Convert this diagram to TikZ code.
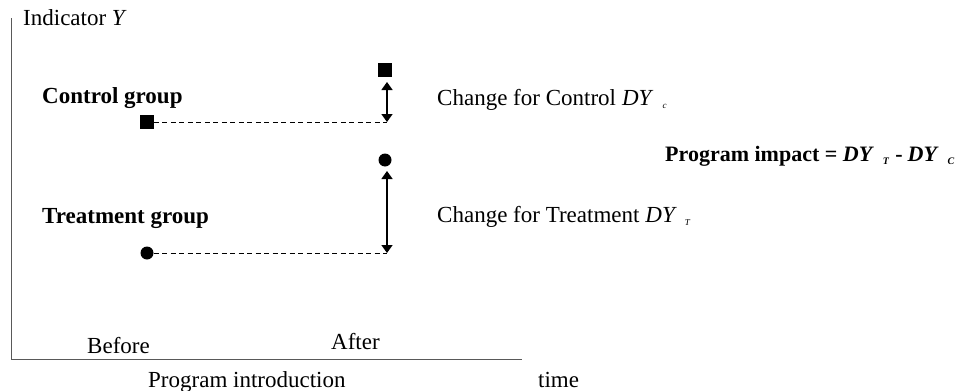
\documentclass[tikz,border=0pt]{standalone}
\usepackage{fontspec}
\setmainfont{Liberation Serif}
\usetikzlibrary{arrows.meta}
\begin{document}
\begin{tikzpicture}[x=1pt,y=-1pt,
  txt/.style={anchor=base west,inner sep=0pt,font=\fontsize{23}{27}\selectfont},
  btxt/.style={txt,font=\fontsize{23}{27}\selectfont\bfseries},
  axis/.style={draw=black!65,line width=1pt},
  sq/.style={fill=black,inner sep=0pt,minimum size=13.5pt,rectangle},
  dot/.style={fill=black,inner sep=0pt,minimum size=13pt,circle},
  dline/.style={line width=0.9pt,dash pattern=on 5pt off 3.5pt},
  dbl/.style={line width=1.4pt,{Triangle[length=8pt,width=11pt]}-{Triangle[length=8pt,width=11pt]}}]
\useasboundingbox (0,0) rectangle (962,391);
% axes
\coordinate (ytop) at (11,18);
\coordinate (orig) at (11,359);
\coordinate (xend) at (522,359);
\draw[axis] (ytop) -- (orig) -- (xend);
% labels
\node[txt] (ind) at (23,25) {Indicator \textit{Y}};
\node[btxt] (ctrl) at (42,103) {Control group};
\node[btxt] (treat) at (42,223) {Treatment group};
% markers
\node[sq] (cb) at (147,122) {};
\node[sq] (ca) at (385,70) {};
\node[dot] (tb) at (147,253) {};
\node[dot] (ta) at (385,160) {};
\coordinate (cend) at (387,122);
\coordinate (tend) at (387,253);
\draw[dline] (cb) -- (cend);
\draw[dline] (tb) -- (tend);
\coordinate (ctop) at (387,82);
\coordinate (ttop) at (387,171);
\draw[dbl] (cend) -- (ctop);
\draw[dbl] (tend) -- (ttop);
% change texts
\node[txt] (chc) at (437,105) {Change for Control\hspace{6pt}\textit{DY}\hspace{9pt}\raisebox{-3pt}{\fontsize{9}{9}\selectfont\textit{c}}};
\node[txt] (cht) at (437,222) {Change for Treatment\hspace{6pt}\textit{DY}\hspace{8pt}\raisebox{-3pt}{\fontsize{9}{9}\selectfont\textit{T}}};
\node[btxt,font=\fontsize{22}{26}\selectfont\bfseries] (imp) at (665,161) {Program impact = \textit{DY}\hspace{9pt}\raisebox{-3pt}{\fontsize{10}{10}\selectfont\textit{T}}\hspace{6pt}-\hspace{5pt}\textit{DY}\hspace{9pt}\raisebox{-3pt}{\fontsize{10}{10}\selectfont\textit{C}}};
% x-axis texts
\node[txt] (bef) at (87,353) {Before};
\node[txt] (aft) at (331,349) {After};
\node[txt] (pi) at (148,387) {Program introduction};
\node[txt] (time) at (538,387) {time};
\end{tikzpicture}
\end{document}
